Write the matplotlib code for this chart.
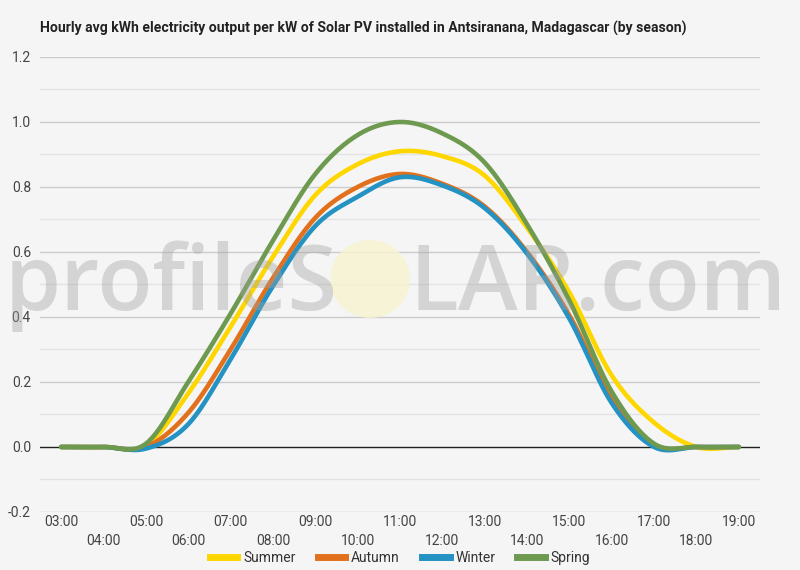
import numpy as np
import matplotlib
matplotlib.use("Agg")
import matplotlib.pyplot as plt
from matplotlib.patches import Ellipse
from matplotlib.lines import Line2D

# ---------------- data ----------------
hours = list(range(3, 20))
hour_labels = [f"{h:02d}:00" for h in hours]
summer = [0, 0, 0.005, 0.165, 0.37, 0.585, 0.775, 0.87, 0.91, 0.895, 0.835, 0.675, 0.475, 0.22, 0.075, 0, 0]
autumn = [0, 0, 0.0, 0.105, 0.30, 0.52, 0.705, 0.80, 0.84, 0.81, 0.74, 0.60, 0.405, 0.15, 0.005, 0, 0]
winter = [0, 0, -0.005, 0.07, 0.27, 0.495, 0.68, 0.77, 0.83, 0.805, 0.735, 0.595, 0.395, 0.135, 0, 0, 0]
spring = [0, 0, 0.01, 0.20, 0.41, 0.635, 0.84, 0.96, 1.0, 0.965, 0.875, 0.685, 0.45, 0.17, 0.01, 0, 0]
series_names = ["Summer", "Autumn", "Winter", "Spring"]
series_vals = [summer, autumn, winter, spring]
colors = ["#FFD700", "#E2711D", "#2492C3", "#6E9A50"]
title = "Hourly avg kWh electricity output per kW of Solar PV installed in Antsiranana, Madagascar (by season)"
y_ticks = [-0.2, 0.0, 0.2, 0.4, 0.6, 0.8, 1.0, 1.2]


def smooth(x, y, n=24):
    """Catmull-Rom rendering of a line through the given points (display only)."""
    x = np.asarray(x, float)
    y = np.asarray(y, float)
    m = np.zeros_like(y)
    m[1:-1] = (y[2:] - y[:-2]) / 2.0
    xs, ys = [], []
    for i in range(len(x) - 1):
        t = np.linspace(0, 1, n, endpoint=(i == len(x) - 2))
        h00 = 2 * t**3 - 3 * t**2 + 1
        h10 = t**3 - 2 * t**2 + t
        h01 = -2 * t**3 + 3 * t**2
        h11 = t**3 - t**2
        xs.append(x[i] + t * (x[i + 1] - x[i]))
        ys.append(h00 * y[i] + h10 * m[i] + h01 * y[i + 1] + h11 * m[i + 1])
    return np.concatenate(xs), np.concatenate(ys)


bg = "#F5F5F5"
fig = plt.figure(figsize=(8, 5.7), dpi=100, facecolor=bg)
ax = fig.add_axes([0.05, 0.1018, 0.90, 0.7982])
ax.set_facecolor(bg)

# grid
for v in np.arange(-0.1, 1.2, 0.2):
    ax.axhline(v, color="#E3E3E3", lw=1.0, zorder=0)
for v in y_ticks:
    if v != 0:
        ax.axhline(v, color="#CCCCCC", lw=1.0, zorder=0)
ax.axhline(0, color="#222222", lw=1.0, zorder=1)

for name, vals, c in zip(series_names, series_vals, colors):
    xs, ys = smooth(hours, vals)
    ax.plot(xs, ys, color=c, lw=3.3, solid_capstyle="round", zorder=3, label=name)

ax.set_xlim(2.5, 19.5)
ax.set_ylim(-0.2, 1.2)
for s in ax.spines.values():
    s.set_visible(False)

ax.set_yticks(y_ticks)
ax.set_yticklabels([f"{v:.1f}" for v in y_ticks])
ax.tick_params(axis="y", length=0, pad=6.5, labelsize=10, labelcolor="#444444")

odd = [h for h in hours if h % 2 == 1]
even = [h for h in hours if h % 2 == 0]
ax.set_xticks(odd)
ax.set_xticklabels([hour_labels[hours.index(h)] for h in odd])
ax.set_xticks(even, minor=True)
ax.set_xticklabels([hour_labels[hours.index(h)] for h in even], minor=True)
ax.tick_params(axis="x", which="major", length=0, pad=2, labelsize=10, labelcolor="#444444")
ax.tick_params(axis="x", which="minor", length=0, pad=15.5, labelsize=10, labelcolor="#444444")
for lab in ax.get_xticklabels(which="both") + ax.get_yticklabels():
    lab.set_family(["Roboto", "DejaVu Sans"])

# title
t = fig.text(40 / 800, 1 - 28 / 570, title, ha="left", va="center", fontsize=12,
             fontweight="bold", color="#222222",
             family=["Liberation Sans Narrow", "Roboto", "DejaVu Sans"])
fig.canvas.draw()
w = t.get_window_extent().width
t.set_fontsize(12 * 643 / w)

# watermark
fig.patches.append(Ellipse((370 / 800, 1 - 279 / 570), 80 / 800, 78 / 570,
                           transform=fig.transFigure, facecolor="#F8F3CF",
                           edgecolor="none", alpha=0.8, zorder=5))
wm_kw = dict(fontsize=65, color="#A0A0A0", alpha=0.38, ha="left", va="baseline",
             family=["Open Sans", "DejaVu Sans"], fontweight="semibold", zorder=6)
fig.text(5 / 800, 1 - 310 / 570, "profileS", **wm_kw)
fig.text(410 / 800, 1 - 310 / 570, "LAR.com", **wm_kw)

# legend
handles = [Line2D([], [], color=c, lw=5) for c in colors]
leg = fig.legend(handles, series_names, loc="center", bbox_to_anchor=(0.5, 1 - 558 / 570),
                 ncol=4, frameon=False, handlelength=2.0, handletextpad=0.4,
                 columnspacing=1.6, prop={"family": ["Roboto", "DejaVu Sans"], "size": 10})
for txt in leg.get_texts():
    txt.set_color("#333333")

fig.savefig("out.png", dpi=100, facecolor=bg)
